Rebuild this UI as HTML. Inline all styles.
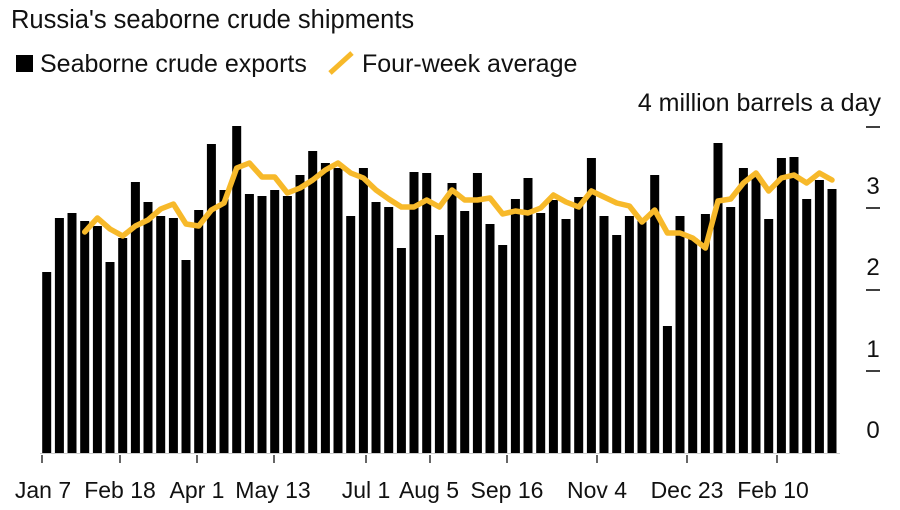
<!DOCTYPE html>
<html><head><meta charset="utf-8"><style>
body{margin:0;background:#fff;}
svg{display:block;font-family:"Liberation Sans",Arial,sans-serif;}
</style></head><body>
<svg width="900" height="510" viewBox="0 0 900 510">
<rect width="900" height="510" fill="#fff"/>
<text x="11" y="28" font-size="25.5" fill="#111">Russia's seaborne crude shipments</text>
<rect x="16" y="55" width="17" height="17" fill="#000"/>
<text x="40" y="72" font-size="25" fill="#111">Seaborne crude exports</text>
<line x1="330" y1="73" x2="352" y2="53" stroke="#f7b92a" stroke-width="5"/>
<text x="362" y="72" font-size="25" fill="#111">Four-week average</text>
<text x="881" y="111" font-size="25" fill="#111" text-anchor="end">4 million barrels a day</text>
<g stroke="#000" stroke-width="1.5">
<line x1="866" y1="127" x2="880" y2="127"/>
<line x1="866" y1="208" x2="880" y2="208"/>
<line x1="866" y1="290" x2="880" y2="290"/>
<line x1="866" y1="371" x2="880" y2="371"/>
</g>
<g font-size="24" fill="#111" text-anchor="middle">
<text x="873" y="194">3</text>
<text x="873" y="275">2</text>
<text x="873" y="357">1</text>
<text x="873" y="438">0</text>
</g>
<g fill="#000">
<rect x="42.2" y="272" width="9" height="181"/>
<rect x="54.9" y="218" width="9" height="235"/>
<rect x="67.5" y="213" width="9" height="240"/>
<rect x="80.2" y="221" width="9" height="232"/>
<rect x="92.9" y="226" width="9" height="227"/>
<rect x="105.5" y="262" width="9" height="191"/>
<rect x="118.2" y="238" width="9" height="215"/>
<rect x="130.9" y="182" width="9" height="271"/>
<rect x="143.5" y="202" width="9" height="251"/>
<rect x="156.2" y="216" width="9" height="237"/>
<rect x="168.9" y="218" width="9" height="235"/>
<rect x="181.5" y="260" width="9" height="193"/>
<rect x="194.2" y="210" width="9" height="243"/>
<rect x="206.9" y="144" width="9" height="309"/>
<rect x="219.5" y="190" width="9" height="263"/>
<rect x="232.2" y="126" width="9" height="327"/>
<rect x="244.9" y="194" width="9" height="259"/>
<rect x="257.5" y="196" width="9" height="257"/>
<rect x="270.2" y="190" width="9" height="263"/>
<rect x="282.9" y="196" width="9" height="257"/>
<rect x="295.5" y="175" width="9" height="278"/>
<rect x="308.2" y="151" width="9" height="302"/>
<rect x="320.9" y="163" width="9" height="290"/>
<rect x="333.5" y="168" width="9" height="285"/>
<rect x="346.2" y="216" width="9" height="237"/>
<rect x="358.9" y="168" width="9" height="285"/>
<rect x="371.5" y="202" width="9" height="251"/>
<rect x="384.2" y="207" width="9" height="246"/>
<rect x="396.9" y="248" width="9" height="205"/>
<rect x="409.5" y="172" width="9" height="281"/>
<rect x="422.2" y="173" width="9" height="280"/>
<rect x="434.9" y="235" width="9" height="218"/>
<rect x="447.5" y="183" width="9" height="270"/>
<rect x="460.2" y="211" width="9" height="242"/>
<rect x="472.9" y="173" width="9" height="280"/>
<rect x="485.5" y="224" width="9" height="229"/>
<rect x="498.2" y="245" width="9" height="208"/>
<rect x="510.9" y="199" width="9" height="254"/>
<rect x="523.5" y="178" width="9" height="275"/>
<rect x="536.2" y="213" width="9" height="240"/>
<rect x="548.9" y="200" width="9" height="253"/>
<rect x="561.5" y="219" width="9" height="234"/>
<rect x="574.2" y="197" width="9" height="256"/>
<rect x="586.9" y="158" width="9" height="295"/>
<rect x="599.5" y="216" width="9" height="237"/>
<rect x="612.2" y="235" width="9" height="218"/>
<rect x="624.9" y="216" width="9" height="237"/>
<rect x="637.5" y="221" width="9" height="232"/>
<rect x="650.2" y="175" width="9" height="278"/>
<rect x="662.9" y="326" width="9" height="127"/>
<rect x="675.5" y="216" width="9" height="237"/>
<rect x="688.2" y="238" width="9" height="215"/>
<rect x="700.9" y="214" width="9" height="239"/>
<rect x="713.5" y="143" width="9" height="310"/>
<rect x="726.2" y="207" width="9" height="246"/>
<rect x="738.9" y="168" width="9" height="285"/>
<rect x="751.5" y="177" width="9" height="276"/>
<rect x="764.2" y="219" width="9" height="234"/>
<rect x="776.9" y="158" width="9" height="295"/>
<rect x="789.5" y="157" width="9" height="296"/>
<rect x="802.2" y="199" width="9" height="254"/>
<rect x="814.9" y="180" width="9" height="273"/>
<rect x="827.5" y="189" width="9" height="264"/>
</g>
<polyline fill="none" stroke="#f7b92a" stroke-width="5.5" stroke-linejoin="round" stroke-linecap="round" points="84.7,232 97.4,218 110,229 122.7,236 135.4,226 148,220 160.7,209 173.4,204 186,224 198.7,226 211.4,210 224,203 236.7,168 249.4,163 262,177 274.7,177 287.4,193 300,188 312.7,180 325.4,170 338,163 350.7,173 363.4,178 376,190 388.7,199 401.4,207 414,207 426.7,200 439.4,207 452,190 464.7,200 477.4,200 490,198 502.7,214 515.4,211 528,213 540.7,208 553.4,195 566,202 578.7,207 591.4,191 604,197 616.7,203 629.4,206 642,222 654.7,210 667.4,233 680,233 692.7,238 705.4,248 718,201 730.7,199 743.4,183 756,173 768.7,191 781.4,178 794,175 806.7,183 819.4,173 832,180"/>
<line x1="40" y1="453.5" x2="840" y2="453.5" stroke="#ccc" stroke-width="1"/>
<g stroke="#000" stroke-width="1.2">
<line x1="42" y1="455" x2="42" y2="463"/>
<line x1="120" y1="455" x2="120" y2="463"/>
<line x1="197" y1="455" x2="197" y2="463"/>
<line x1="274" y1="455" x2="274" y2="463"/>
<line x1="366" y1="455" x2="366" y2="463"/>
<line x1="430" y1="455" x2="430" y2="463"/>
<line x1="507" y1="455" x2="507" y2="463"/>
<line x1="597" y1="455" x2="597" y2="463"/>
<line x1="687" y1="455" x2="687" y2="463"/>
<line x1="777" y1="455" x2="777" y2="463"/>
</g>
<g font-size="23" fill="#111" text-anchor="middle">
<text x="43" y="498">Jan 7</text>
<text x="120" y="498">Feb 18</text>
<text x="197" y="498">Apr 1</text>
<text x="273" y="498">May 13</text>
<text x="366" y="498">Jul 1</text>
<text x="429" y="498">Aug 5</text>
<text x="507" y="498">Sep 16</text>
<text x="597" y="498">Nov 4</text>
<text x="687" y="498">Dec 23</text>
<text x="773" y="498">Feb 10</text>
</g>
</svg>
</body></html>
